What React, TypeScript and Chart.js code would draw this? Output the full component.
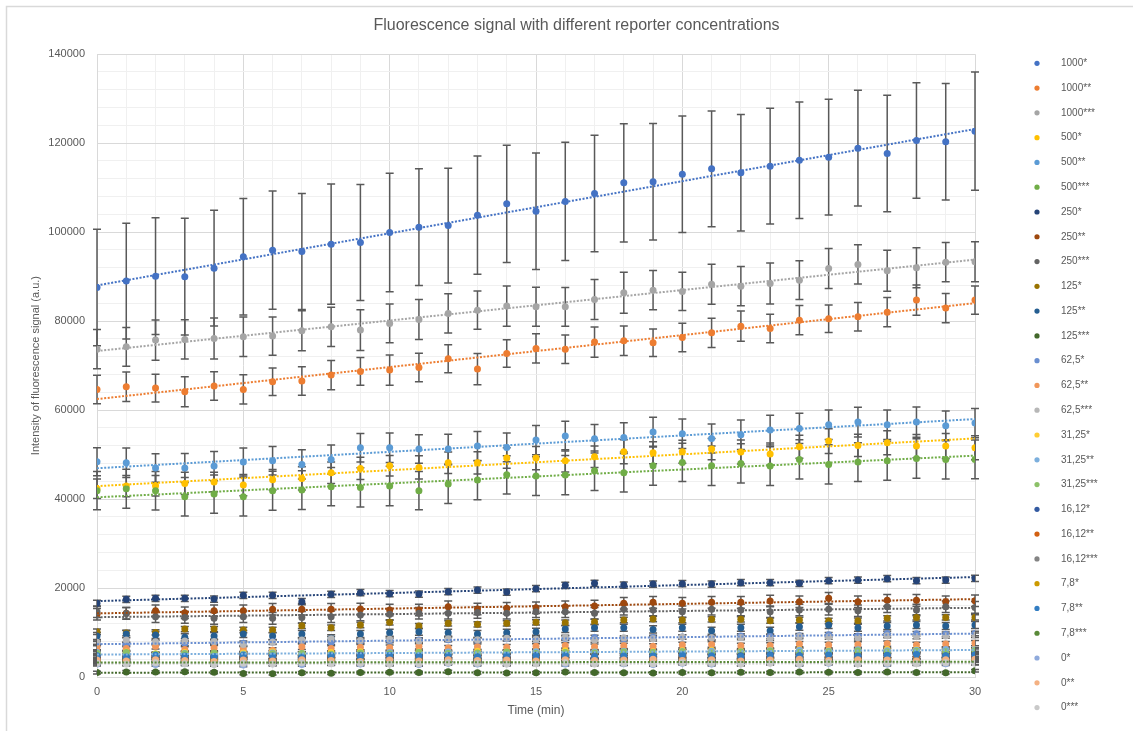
import React, { useEffect, useRef } from 'react';
import { Chart, registerables } from 'chart.js';

Chart.register(...registerables);

const FONT = '"Liberation Sans", Arial, sans-serif';
const TEXT = '#595959';

const chartTitle = 'Fluorescence signal with different reporter concentrations';
const xTitle = 'Time (min)';
const yTitle = 'Intensity of fluorescence signal (a.u.)';

const times = [0, 1, 2, 3, 4, 5, 6, 7, 8, 9, 10, 11, 12, 13, 14, 15, 16, 17, 18, 19, 20, 21, 22, 23, 24, 25, 26, 27, 28, 29, 30];

const seriesLabels = [
  '1000*', '1000**', '1000***', '500*', '500**', '500***', '250*', '250**', '250***',
  '125*', '125**', '125***', '62,5*', '62,5**', '62,5***', '31,25*', '31,25**', '31,25***',
  '16,12*', '16,12**', '16,12***', '7,8*', '7,8**', '7,8***', '0*', '0**', '0***',
];

const seriesColors = [
  '#4472C4', '#ED7D31', '#A5A5A5', '#FFC000', '#5B9BD5', '#70AD47', '#264478', '#9E480E', '#636363',
  '#997300', '#255E91', '#43682B', '#698ED0', '#F1975A', '#B7B7B7', '#FFCD33', '#7CAFDD', '#8CC168',
  '#335AA1', '#D26012', '#848484', '#CC9A00', '#327DC2', '#5A8A39', '#8FAADC', '#F4B183', '#C9C9C9',
];

const s1000a = [87570, 88990, 90110, 90000, 91910, 94450, 95950, 95650, 97300, 97680, 99920, 101120, 101490, 103820, 106360, 104680, 106900, 108690, 111080, 111310, 113030, 114230, 113330, 114830, 116180, 116850, 118870, 117680, 120600, 120300, 122700];
const s1000b = [64650, 65240, 64940, 64120, 65390, 64650, 66360, 66520, 67870, 68700, 68990, 69590, 71530, 69210, 72730, 73860, 73700, 75280, 75580, 75130, 76330, 77370, 78870, 78350, 80220, 80520, 80970, 82020, 84720, 82920, 84720];
const s1000c = [73700, 74230, 75730, 75880, 76100, 76480, 76630, 77830, 78720, 77980, 79480, 80380, 81730, 82470, 83370, 83220, 83220, 84870, 86360, 86960, 86660, 88310, 87860, 88460, 89210, 91840, 92740, 91310, 91980, 93260, 93330];
const s500a = [42300, 42920, 43000, 43520, 43820, 43140, 44340, 44640, 45910, 46890, 47490, 47110, 48160, 48160, 49210, 49210, 48610, 49510, 50630, 50410, 50630, 51230, 50560, 50110, 51760, 53030, 52060, 52660, 51910, 51910, 51530];
const s500b = [48380, 48160, 46970, 46970, 47410, 48310, 48610, 47790, 48910, 51530, 51530, 51230, 51230, 51910, 51610, 53260, 54160, 53560, 53860, 55050, 54680, 53630, 54460, 55500, 55880, 56700, 57300, 56700, 57300, 56470, 57080];
const s500c = [41870, 42320, 41870, 40520, 41120, 40520, 41870, 42020, 42770, 42620, 42920, 41870, 43370, 44270, 45460, 45160, 45390, 46360, 45910, 47490, 48240, 47490, 48010, 47410, 48910, 47790, 48310, 48610, 49130, 48910, 48910];
const s250a = [16560, 17460, 17680, 17680, 17530, 18350, 18350, 16930, 18580, 18950, 18730, 18650, 19170, 19550, 19100, 19850, 20600, 21050, 20670, 20900, 20970, 20900, 21200, 21200, 21050, 21640, 21800, 22090, 21640, 21800, 22170];
const s250b = [14100, 14310, 14900, 14460, 14900, 14900, 15210, 15210, 15210, 15300, 15060, 15060, 15800, 15300, 15440, 15580, 15800, 15950, 16560, 16780, 16560, 16780, 16780, 17080, 16930, 17680, 16930, 17230, 17230, 16930, 17160];
const s250c = [14680, 14300, 13550, 13400, 13180, 13550, 13180, 13400, 13550, 13930, 14080, 14310, 14310, 14500, 14310, 14680, 14680, 14310, 15210, 15060, 14680, 15210, 15060, 14680, 15060, 15210, 14900, 15800, 15060, 15800, 15650];
const s125a = [10180, 9900, 10030, 10780, 10780, 10560, 10560, 11530, 11080, 11690, 12290, 11450, 12070, 11840, 12070, 12290, 12200, 12360, 12810, 13030, 12810, 12960, 12960, 12660, 12810, 12590, 12660, 13180, 13400, 13400, 13400];
const s125b = [9210, 9660, 9440, 8910, 9210, 9660, 9210, 9660, 8690, 9660, 9960, 10180, 9960, 9660, 9960, 10180, 10780, 11080, 11080, 10700, 11080, 10410, 11080, 10410, 11310, 11690, 11080, 11450, 11690, 11450, 11690];
const s125c = [1000, 1150, 1100, 1200, 1050, 800, 750, 950, 850, 1000, 1050, 1000, 1200, 950, 900, 950, 1150, 1000, 950, 900, 1000, 950, 1050, 1000, 1100, 1050, 1000, 1100, 1000, 950, 1400];
const s62a = [7500, 7300, 7700, 7600, 7800, 7600, 7900, 8100, 7800, 8000, 8200, 8300, 8400, 8200, 8600, 8500, 8700, 8900, 8600, 8900, 9000, 8800, 9200, 9100, 9300, 9500, 9200, 9800, 9700, 9600, 9800];
const s62b = [6700, 6400, 6900, 6200, 6500, 6300, 6000, 6800, 6400, 6700, 6600, 6900, 6500, 6800, 6700, 6900, 7100, 6800, 7000, 6900, 7200, 7300, 7000, 7100, 7400, 7200, 7300, 7500, 7200, 7400, 7600];
const s62c = [7800, 8300, 7900, 8100, 8000, 7300, 7800, 8300, 8600, 8200, 8500, 8100, 8600, 8400, 8700, 8500, 8900, 8300, 8800, 8600, 9000, 8800, 8900, 8700, 9100, 9000, 8800, 9300, 9100, 9200, 9400];
const s31a = [5400, 5600, 5200, 5500, 5300, 5400, 5600, 5300, 5500, 5700, 5400, 5600, 5500, 5800, 5600, 5700, 5900, 5600, 5800, 5700, 5900, 6000, 5800, 6000, 6100, 5900, 6000, 6200, 6100, 6000, 6200];
const s31b = [5500, 5200, 5000, 5300, 4900, 5100, 5400, 5200, 5000, 5300, 5500, 5400, 5600, 5300, 5500, 5700, 5400, 5600, 5800, 5500, 5700, 5800, 5600, 5900, 6000, 5800, 6100, 5900, 6000, 6200, 6100];
const s31c = [5300, 5500, 5100, 5200, 5400, 5000, 5200, 5300, 5100, 5400, 5200, 5500, 5300, 5400, 5600, 5300, 5500, 5400, 5600, 5500, 5700, 5400, 5600, 5800, 5500, 5700, 5900, 5600, 5800, 5700, 5900];
const s16a = [4600, 4300, 4700, 4500, 4400, 4800, 4600, 4300, 4700, 4900, 4500, 4600, 4800, 4400, 4700, 4900, 4600, 4800, 4500, 4700, 4900, 4600, 4800, 5000, 4700, 4900, 4600, 4800, 5000, 4700, 4900];
const s16b = [4200, 4000, 4400, 4300, 4100, 4500, 4200, 4000, 4400, 4300, 4100, 4200, 4500, 4300, 4100, 4400, 4200, 4600, 4300, 4100, 4400, 4500, 4200, 4600, 4300, 4500, 4200, 4400, 4600, 4300, 4500];
const s16c = [3800, 4000, 3700, 3900, 4100, 3800, 3600, 3900, 4000, 3700, 3900, 4100, 3800, 4000, 3700, 3900, 4100, 3800, 4000, 4200, 3900, 4100, 3800, 4000, 4200, 3900, 4100, 4000, 3800, 4100, 4200];
const s78a = [3500, 3700, 3600, 3400, 3800, 3600, 3500, 3700, 3900, 3600, 3400, 3700, 3600, 3800, 3500, 3700, 3900, 3600, 3800, 3500, 3700, 3900, 3600, 3800, 3700, 3500, 3800, 3900, 3600, 3800, 3700];
const s78b = [4800, 4500, 4900, 4700, 4600, 4900, 4700, 4500, 4800, 4600, 4900, 4700, 4800, 4600, 4900, 4700, 4900, 4600, 4800, 4700, 5000, 4800, 4600, 4900, 4800, 5000, 4700, 4900, 5100, 4800, 5000];
const s78c = [3200, 3400, 3100, 3300, 3200, 3500, 3300, 3100, 3400, 3200, 3300, 3500, 3200, 3400, 3300, 3100, 3400, 3300, 3500, 3200, 3400, 3300, 3500, 3400, 3200, 3500, 3400, 3300, 3500, 3400, 3600];
const s0a = [2900, 3100, 2800, 3000, 2900, 2700, 3000, 2800, 3100, 2900, 3000, 2800, 3100, 2900, 3000, 3200, 2900, 3100, 3000, 2800, 3100, 2900, 3000, 3200, 2900, 3100, 3000, 2900, 3100, 3000, 3200];
const s0b = [3800, 3600, 3900, 3700, 3500, 3800, 3600, 3900, 3700, 3500, 3800, 3600, 3900, 3700, 3800, 3600, 3900, 3700, 3800, 4000, 3700, 3900, 3600, 3800, 4000, 3700, 3900, 3800, 3600, 3900, 4000];
const s0c = [3100, 2900, 3200, 3000, 2800, 3100, 2900, 3200, 3000, 3100, 2900, 3000, 3200, 3100, 2900, 3000, 3200, 2900, 3100, 3000, 3200, 3100, 2900, 3100, 3000, 3200, 2900, 3100, 3000, 3200, 3100];

const seriesValues = [
  s1000a, s1000b, s1000c, s500a, s500b, s500c, s250a, s250b, s250c,
  s125a, s125b, s125c, s62a, s62b, s62c, s31a, s31b, s31c,
  s16a, s16b, s16c, s78a, s78b, s78c, s0a, s0b, s0c,
];

// error bar half-lengths
const e1000a = [13100, 13000, 13100, 13100, 13030, 13100, 13300, 13040, 13500, 13030, 13300, 13110, 12900, 13300, 13200, 13100, 13300, 13100, 13300, 13100, 13100, 13000, 13100, 13000, 13100, 13000, 13000, 13100, 13000, 13100, 13300];
const e1000b = [3200, 3300, 3100, 3350, 3200, 3300, 3100, 3200, 3300, 3100, 3400, 3200, 3150, 3500, 3100, 3300, 3200, 3400, 3300, 3100, 3200, 3300, 3400, 3200, 3300, 3100, 3200, 3300, 3400, 3300, 3200];
const e1000c = [4400, 4350, 4500, 4400, 4600, 4450, 4300, 4500, 4400, 4600, 4350, 4500, 4400, 4300, 4500, 4400, 4350, 4500, 4600, 4400, 4300, 4500, 4400, 4600, 4350, 4500, 4400, 4600, 4500, 4400, 4500];
const e500a = [2200, 2400, 2300, 2500, 2200, 2400, 2300, 2600, 2400, 2500, 2300, 2600, 2400, 2500, 2300, 2600, 2500, 2400, 2700, 2500, 2600, 2400, 2700, 2500, 2600, 2800, 2500, 2700, 2600, 2800, 2700];
const e500b = [3150, 3300, 3200, 3250, 3300, 3150, 3200, 3300, 3250, 3200, 3300, 3200, 3350, 3300, 3250, 3300, 3350, 3200, 3300, 3350, 3300, 3250, 3300, 3350, 3400, 3300, 3350, 3300, 3400, 3350, 3300];
const e500c = [4300, 4400, 4350, 4330, 4300, 4330, 4400, 4350, 4300, 4400, 4450, 4300, 4350, 4400, 4300, 4350, 4400, 4450, 4350, 4400, 4300, 4450, 4400, 4350, 4400, 4400, 4350, 4400, 4450, 4400, 4350];
// one error size per series for the low-concentration cluster (250* .. 0***)
const clusterErr = [700, 1300, 1300, 600, 800, 300, 500, 600, 500, 400, 500, 400, 400, 500, 400, 400, 500, 300, 400, 500, 400];
const topErrors = [e1000a, e1000b, e1000c, e500a, e500b, e500c];

// which series carry a dotted linear trendline
const hasTrend = [true, true, true, true, true, true, true, true, true, false, false, true, true, false, false, false, true, false, false, false, false, false, false, true, false, false, true];

function linearFit(xs: number[], ys: number[]) {
  const n = xs.length;
  let sx = 0, sy = 0, sxx = 0, sxy = 0;
  for (let i = 0; i < n; i++) {
    sx += xs[i]; sy += ys[i]; sxx += xs[i] * xs[i]; sxy += xs[i] * ys[i];
  }
  const b = (n * sxy - sx * sy) / (n * sxx - sx * sx);
  const a = (sy - b * sx) / n;
  return { a, b };
}

const framePlugin = {
  id: 'frame',
  beforeDraw(chart: any) {
    const { ctx, width, height } = chart;
    ctx.save();
    ctx.fillStyle = '#ffffff';
    ctx.fillRect(0, 0, width, height);
    ctx.strokeStyle = '#d9d9d9';
    ctx.lineWidth = 1.5;
    ctx.beginPath();
    ctx.moveTo(6.5, height);
    ctx.lineTo(6.5, 6.5);
    ctx.lineTo(width, 6.5);
    ctx.stroke();
    ctx.restore();
  },
};

const errorBarPlugin = {
  id: 'errorBars',
  beforeDatasetsDraw(chart: any) {
    const { ctx } = chart;
    const xs = chart.scales.x;
    const ys = chart.scales.y;
    ctx.save();
    ctx.strokeStyle = '#595959';
    ctx.lineWidth = 1.5;
    chart.data.datasets.forEach((ds: any) => {
      const errs = ds.errorBars;
      if (!errs) return;
      ds.data.forEach((p: any, j: number) => {
        const e = errs[j];
        const px = xs.getPixelForValue(p.x);
        const top = ys.getPixelForValue(p.y + e);
        const bot = ys.getPixelForValue(p.y - e);
        ctx.beginPath();
        ctx.moveTo(px, top);
        ctx.lineTo(px, bot);
        ctx.moveTo(px - 4, top);
        ctx.lineTo(px + 4, top);
        ctx.moveTo(px - 4, bot);
        ctx.lineTo(px + 4, bot);
        ctx.stroke();
      });
    });
    ctx.restore();
  },
};

const sideLegendPlugin = {
  id: 'sideLegend',
  afterDraw(chart: any) {
    const { ctx } = chart;
    ctx.save();
    ctx.font = `10px ${FONT}`;
    ctx.textBaseline = 'middle';
    ctx.textAlign = 'left';
    seriesLabels.forEach((lab, i) => {
      const yy = 63.3 + i * 24.78;
      ctx.fillStyle = seriesColors[i];
      ctx.beginPath();
      ctx.arc(1037, yy, 2.6, 0, Math.PI * 2);
      ctx.fill();
      ctx.fillStyle = TEXT;
      ctx.fillText(lab, 1061, yy);
    });
    ctx.restore();
  },
};

export default function App() {
  const ref = useRef<HTMLCanvasElement | null>(null);

  useEffect(() => {
    if (!ref.current) return;
    const datasets: any[] = [];
    seriesValues.forEach((vals, i) => {
      const errs = i < topErrors.length ? topErrors[i] : vals.map(() => clusterErr[i - topErrors.length]);
      datasets.push({
        type: 'scatter',
        label: seriesLabels[i],
        data: vals.map((v, j) => ({ x: times[j], y: v })),
        errorBars: errs,
        backgroundColor: seriesColors[i],
        borderColor: seriesColors[i],
        pointRadius: 3.5,
        pointBorderWidth: 0,
        pointHoverRadius: 3.5,
        order: -i,
      });
    });
    seriesValues.forEach((vals, i) => {
      if (!hasTrend[i]) return;
      const { a, b } = linearFit(times, vals);
      const x0 = times[0];
      const x1 = times[times.length - 1];
      datasets.push({
        type: 'line',
        label: seriesLabels[i] + ' trend',
        data: [{ x: x0, y: a + b * x0 }, { x: x1, y: a + b * x1 }],
        borderColor: seriesColors[i],
        borderWidth: 2,
        borderDash: [2, 1.6],
        pointRadius: 0,
        fill: false,
        order: -1000,
      });
    });

    const chart = new Chart(ref.current, {
      type: 'scatter',
      data: { datasets },
      options: {
        responsive: false,
        animation: false,
        events: [],
        layout: { padding: { left: 20, top: 6, right: 0, bottom: 0 } },
        plugins: {
          legend: { display: false },
          tooltip: { enabled: false },
          title: {
            display: true,
            text: chartTitle,
            color: TEXT,
            font: { family: FONT, size: 16, weight: 'normal' },
            padding: { top: 10, bottom: 19 },
          },
        },
        scales: {
          x: {
            type: 'linear',
            position: 'bottom',
            min: 0,
            max: 30,
            ticks: {
              stepSize: 1,
              autoSkip: false,
              maxRotation: 0,
              minRotation: 0,
              maxTicksLimit: 100,
              padding: 8,
              color: TEXT,
              font: { family: FONT, size: 11 },
              callback: (v: any) => (Number(v) % 5 === 0 ? String(v) : ''),
            },
            grid: {
              drawTicks: false,
              lineWidth: 1,
              color: (c: any) => (c.tick && c.tick.value % 5 === 0 ? '#d9d9d9' : '#f0f0f0'),
            },
            border: { color: '#d9d9d9' },
            title: {
              display: true,
              text: xTitle,
              color: TEXT,
              font: { family: FONT, size: 12 },
              padding: { top: 0, bottom: 13 },
            },
            afterFit: (s: any) => { s.height = 54; },
          },
          y: {
            type: 'linear',
            position: 'left',
            min: 0,
            max: 140000,
            ticks: {
              stepSize: 4000,
              autoSkip: false,
              maxTicksLimit: 100,
              padding: 12,
              color: TEXT,
              font: { family: FONT, size: 11 },
              callback: (v: any) => (Number(v) % 20000 === 0 ? String(v) : ''),
            },
            grid: {
              drawTicks: false,
              lineWidth: 1,
              color: (c: any) => (c.tick && c.tick.value % 20000 === 0 ? '#d9d9d9' : '#f0f0f0'),
            },
            border: { color: '#d9d9d9' },
            title: {
              display: true,
              text: yTitle,
              color: TEXT,
              font: { family: FONT, size: 11 },
              padding: { top: 9, bottom: 0 },
            },
            afterFit: (s: any) => { s.width = 77; },
          },
          legendSpace: {
            type: 'linear',
            axis: 'y',
            position: 'right',
            display: true,
            grid: { display: false, drawTicks: false },
            border: { display: false },
            ticks: { display: false },
            afterFit: (s: any) => { s.width = 158; },
          },
        },
      } as any,
      plugins: [framePlugin, errorBarPlugin, sideLegendPlugin],
    });
    return () => chart.destroy();
  }, []);

  return (
    <div style={{ position: 'fixed', left: 0, top: 0, width: 1133, height: 731, background: '#fff' }}>
      <canvas ref={ref} width={1133} height={731} style={{ display: 'block' }} />
    </div>
  );
}
